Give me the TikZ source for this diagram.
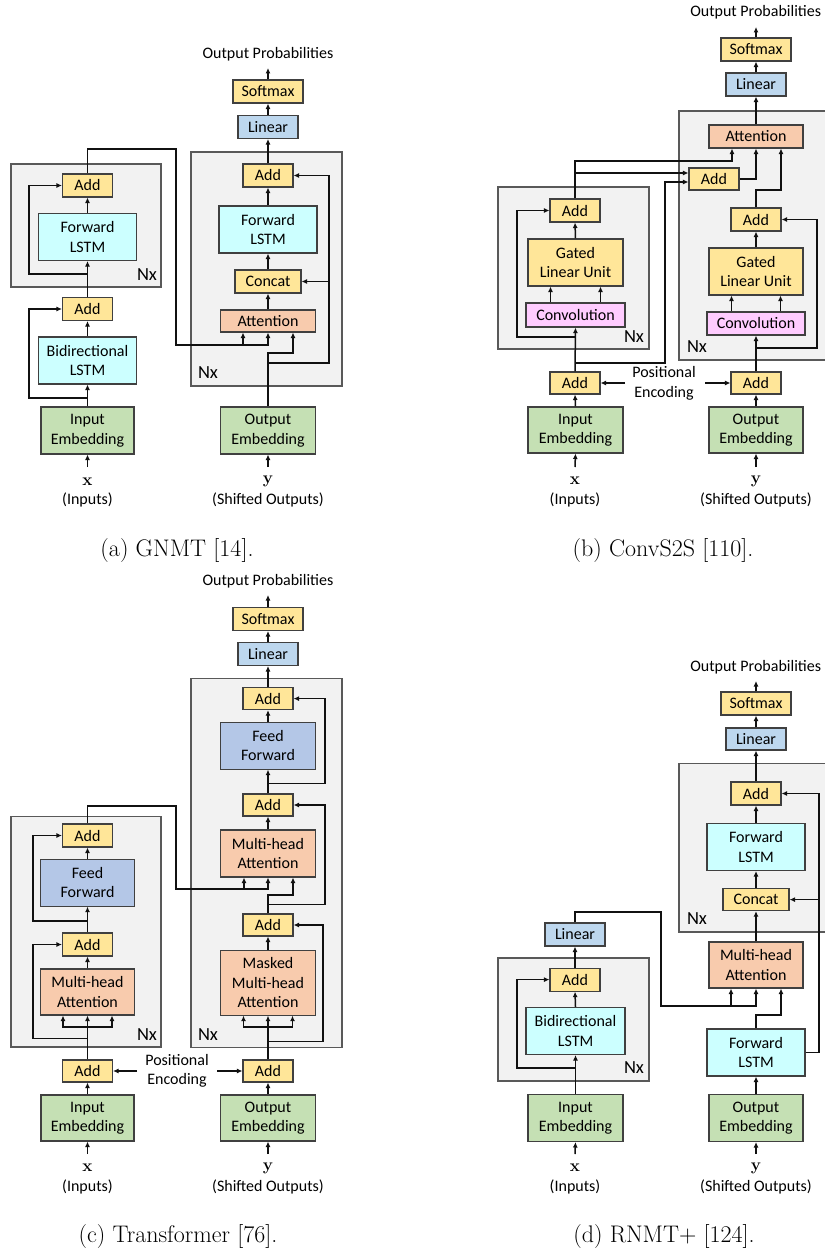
\documentclass[tikz,border=0pt]{standalone}
\usepackage{fontspec}
\newfontfamily\cfont{Carlito}
\usetikzlibrary{arrows.meta,calc}
\definecolor{cyel}{HTML}{FFE699}
\definecolor{clin}{HTML}{BDD7EE}
\definecolor{cff}{HTML}{B4C7E7}
\definecolor{clstm}{HTML}{CCFFFF}
\definecolor{catt}{HTML}{F8CBAD}
\definecolor{cconv}{HTML}{FFCCFF}
\definecolor{cemb}{HTML}{C5E0B4}
\definecolor{cnx}{HTML}{F2F2F2}
\definecolor{cnxd}{HTML}{595959}
\definecolor{cbd}{HTML}{404040}
\definecolor{cln}{HTML}{111111}
\tikzset{
 blk/.style={draw=cbd, line width=1.1pt, inner sep=0pt, align=center, font=\cfont\fontsize{16}{19.5}\selectfont, text=black},
 yb/.style={blk, fill=cyel},
 lb/.style={blk, fill=clin},
 fb/.style={blk, fill=cff},
 sb/.style={blk, fill=clstm},
 ab/.style={blk, fill=catt},
 pb/.style={blk, fill=cconv},
 gb/.style={blk, fill=cemb},
 addb/.style={yb, minimum width=50pt, minimum height=23pt},
 smb/.style={yb, minimum width=70pt, minimum height=23pt},
 linb/.style={lb, minimum width=60pt, minimum height=23pt},
 bigb/.style={minimum width=95pt, minimum height=47pt},
 nxbox/.style={draw=cnxd, fill=cnx, line width=1.2pt},
 lbl/.style={font=\cfont\fontsize{16}{19.5}\selectfont, align=center, inner sep=0pt},
 nxl/.style={font=\cfont\fontsize{18.5}{19.5}\selectfont, inner sep=0pt},
 sym/.style={font=\fontsize{17}{17}\selectfont\bfseries, inner sep=0pt},
 capt/.style={font=\fontsize{24}{28}\selectfont, inner sep=0pt, anchor=base},
 arr/.style={draw=cln, line width=1.5pt, -{Latex[length=5.5pt,width=5pt]}},
 con/.style={draw=cln, line width=1.5pt},
}
\begin{document}
\begin{tikzpicture}[x=1pt,y=-1pt]
\fill[white] (0,0) rectangle (824,1252);
\useasboundingbox (0,0) rectangle (824,1252);

%================ (a) GNMT =================
\draw[nxbox] (191,152) rectangle (342,386);
\draw[nxbox] (11,164) rectangle (161,287);
\node[lbl] (aOP) at (268,54) {Output Probabilities};
\coordinate (aOPb) at (268,68);
\node[smb] (aSoft) at (268,91.5) {Softmax};
\node[linb] (aLin) at (268,127) {Linear};
\node[addb] (aDAdd) at (268,175.5) {Add};
\node[sb,bigb,minimum width=98pt] (aDLSTM) at (268,229.5) {Forward\\LSTM};
\node[yb,minimum width=66pt,minimum height=23pt] (aCat) at (268,281.5) {Concat};
\node[ab,minimum width=95pt,minimum height=22pt] (aAtt) at (268,321) {Attention};
\node[nxl] (aNxD) at (208,373) {Nx};
\node[gb,bigb] (aOE) at (268,430.5) {Output\\Embedding};
\node[sym] (ay) at (268,481.5) {y};
\node[lbl] (ays) at (268,500) {(Shifted Outputs)};
\coordinate (ayT) at (268,467);

\node[addb] (aEAdd2) at (87.5,185.5) {Add};
\node[sb,bigb,minimum width=98pt] (aELSTM) at (87.5,237) {Forward\\LSTM};
\node[nxl] (aNxE) at (147,275) {Nx};
\node[addb] (aEAdd1) at (87.5,309) {Add};
\node[sb,bigb,minimum width=98pt] (aEBi) at (87.5,360.5) {Bidirectional\\LSTM};
\node[gb,bigb,minimum width=93pt] (aIE) at (87.5,430.5) {Input\\Embedding};
\node[sym] (ax) at (87.5,481.5) {x};
\node[lbl] (axs) at (87.5,500) {(Inputs)};
\coordinate (axT) at (87.5,467);

\draw[arr] (axT) -- (aIE.south);
\draw[arr] (aIE.north) -- (aEBi.south);
\draw[arr] (87.5,398) -- (29,398) |- (aEAdd1.west);
\draw[arr] (aEBi.north) -- (aEAdd1.south);
\draw[arr] (aEAdd1.north) -- (aELSTM.south);
\draw[arr] (87.5,274) -- (29,274) |- (aEAdd2.west);
\draw[arr] (aELSTM.north) -- (aEAdd2.south);
\draw[arr] (aEAdd2.north) -- (87.5,149) -- (176,149) -- (176,345) -- (268,345) -- (aAtt.south);
\draw[arr] (243,345) -- ($(aAtt.south)+(-25,0)$);
\draw[arr] (ayT) -- (aOE.south);
\draw[arr] (aOE.north) -- (268,353) -| ($(aAtt.south)+(25,0)$);
\draw[arr] (268,363) -- (329,363) |- (aDAdd.east);
\draw[arr] (329,281.5) -- (aCat.east);
\draw[arr] (aAtt.north) -- (aCat.south);
\draw[arr] (aCat.north) -- (aDLSTM.south);
\draw[arr] (aDLSTM.north) -- (aDAdd.south);
\draw[arr] (aDAdd.north) -- (aLin.south);
\draw[arr] (aLin.north) -- (aSoft.south);
\draw[arr] (aSoft.north) -- (aOPb);

\node[capt] (capa) at (177,556) {(a) GNMT [14].};

%================ (b) ConvS2S =================
\draw[nxbox] (679,111) rectangle (834,360);
\draw[nxbox] (498,187) rectangle (649,349);
\node[lbl] (bOP) at (755.7,12.7) {Output Probabilities};
\coordinate (bOPb) at (756,27);
\node[smb] (bSoft) at (756,49.5) {Softmax};
\node[linb] (bLin) at (756,84.5) {Linear};
\node[ab,minimum width=94pt,minimum height=23pt] (bAtt) at (756,136.5) {Attention};
\node[addb,minimum height=22pt] (bCAdd) at (714,179) {Add};
\node[addb] (bDAdd) at (756,219.5) {Add};
\node[yb,bigb,minimum width=94pt] (bDGLU) at (756,271.5) {Gated\\Linear Unit};
\node[pb,minimum width=98pt,minimum height=23pt] (bDConv) at (756,323.5) {Convolution};
\node[nxl] (bNxD) at (697,347) {Nx};
\node[addb,minimum height=22pt] (bPAddD) at (756,383) {Add};
\node[gb,bigb,minimum width=94pt,minimum height=46pt] (bOE) at (756,430) {Output\\Embedding};
\node[sym] (by) at (756,481) {y};
\node[lbl] (bys) at (756,499.5) {(Shifted Outputs)};
\coordinate (byT) at (756,467);

\node[addb] (bEAdd) at (575,210.5) {Add};
\node[yb,bigb] (bEGLU) at (575.5,262.5) {Gated\\Linear Unit};
\node[pb,minimum width=99pt,minimum height=24pt] (bEConv) at (575.5,315) {Convolution};
\node[nxl] (bNxE) at (634,337) {Nx};
\node[addb,minimum height=22pt] (bPAddE) at (575,383) {Add};
\node[gb,bigb,minimum height=46pt] (bIE) at (575.5,430) {Input\\Embedding};
\node[sym] (bx) at (575,481) {x};
\node[lbl] (bxs) at (575,499.5) {(Inputs)};
\coordinate (bxT) at (575,467);
\node[lbl] (bPE) at (664,383.5) {Positional\\Encoding};
\coordinate (bPEl) at (625,383);
\coordinate (bPEr) at (705,383);

\draw[arr] (bxT) -- (bIE.south);
\draw[arr] (bIE.north) -- (bPAddE.south);
\draw[arr] (bPEl) -- (bPAddE.east);
\draw[arr] (bPEr) -- (bPAddD.west);
\draw[arr] (bPAddE.north) -- (bEConv.south);
\draw[arr] (575,337) -- (517,337) |- (bEAdd.west);
\draw[arr] (575,363) -- (665,363) |- ($(bCAdd.west)+(0,3)$);
\draw[arr] ($(bEConv.north)+(-25,0)$) -- ($(bEGLU.south)+(-25,0)$);
\draw[arr] ($(bEConv.north)+(25,0)$) -- ($(bEGLU.south)+(25,0)$);
\draw[arr] (bEGLU.north) -- (bEAdd.south);
\draw[arr] (bEAdd.north) -- (575,161) -| ($(bAtt.south)+(-24,0)$);
\draw[arr] (575,173) -- ($(bCAdd.west)+(0,-6)$);
\draw[arr] (bCAdd.east) -| (bAtt.south);
\draw[arr] (byT) -- (bOE.south);
\draw[arr] (bOE.north) -- (bPAddD.south);
\draw[arr] (bPAddD.north) -- (bDConv.south);
\draw[arr] (756,348) -- (817,348) |- (bDAdd.east);
\draw[arr] ($(bDConv.north)+(-24.5,0)$) -- ($(bDGLU.south)+(-24.5,0)$);
\draw[arr] ($(bDConv.north)+(24.5,0)$) -- ($(bDGLU.south)+(24.5,0)$);
\draw[arr] (bDGLU.north) -- (bDAdd.south);
\draw[arr] (bDAdd.north) -- (756,190) -| ($(bAtt.south)+(25,0)$);
\draw[arr] (bAtt.north) -- (bLin.south);
\draw[arr] (bLin.north) -- (bSoft.south);
\draw[arr] (bSoft.north) -- (bOPb);

\node[capt] (capb) at (663,556) {(b) ConvS2S [110].};

%================ (c) Transformer =================
\draw[nxbox] (191,678.6) rectangle (342,1047.6);
\draw[nxbox] (11,816.5) rectangle (161,1047);
\node[lbl] (cOP) at (268,581.4) {Output Probabilities};
\coordinate (cOPb) at (268,595);
\node[smb] (cSoft) at (268,619) {Softmax};
\node[linb] (cLin) at (268,654) {Linear};
\node[addb,minimum height=22pt] (cDAdd3) at (268,698.6) {Add};
\node[fb,bigb] (cDFF) at (268,745.6) {Feed\\Forward};
\node[addb,minimum height=22pt] (cDAdd2) at (268,805) {Add};
\node[ab,bigb] (cDMHA) at (268,853.5) {Multi-head\\Attention};
\node[addb,minimum height=22pt] (cDAdd1) at (268,925) {Add};
\node[ab,minimum width=95pt,minimum height=65pt] (cDMM) at (268,982.6) {Masked\\Multi-head\\Attention};
\node[nxl] (cNxD) at (208,1034.5) {Nx};
\node[addb,minimum height=22pt] (cPAddD) at (268,1071) {Add};
\node[gb,bigb,minimum height=46pt] (cOE) at (268,1118) {Output\\Embedding};
\node[sym] (cy) at (268,1168) {y};
\node[lbl] (cys) at (268,1187) {(Shifted Outputs)};
\coordinate (cyT) at (268,1154);

\node[addb] (cEAdd2) at (87.5,835.5) {Add};
\node[fb,bigb,minimum width=94pt] (cEFF) at (87.5,882.6) {Feed\\Forward};
\node[addb] (cEAdd1) at (87.5,944.5) {Add};
\node[ab,bigb,minimum width=94pt,minimum height=46pt] (cEMHA) at (87.5,992) {Multi-head\\Attention};
\node[nxl] (cNxE) at (147,1034.5) {Nx};
\node[addb,minimum height=22pt] (cPAddE) at (87.5,1071) {Add};
\node[gb,bigb,minimum width=93pt,minimum height=46pt] (cIE) at (87.5,1118) {Input\\Embedding};
\node[sym] (cx) at (87.5,1168) {x};
\node[lbl] (cxs) at (87.5,1187) {(Inputs)};
\coordinate (cxT) at (87.5,1154);
\node[lbl] (cPE) at (177,1071) {Positional\\Encoding};
\coordinate (cPEl) at (137,1071);
\coordinate (cPEr) at (217,1071);

\draw[arr] (cxT) -- (cIE.south);
\draw[arr] (cIE.north) -- (cPAddE.south);
\draw[arr] (cPEl) -- (cPAddE.east);
\draw[arr] (cPEr) -- (cPAddD.west);
\draw[arr] (cPAddE.north) -- (cEMHA.south);
\draw[arr] (87.5,1027) -| ($(cEMHA.south)+(-24.5,0)$);
\draw[arr] (87.5,1027) -| ($(cEMHA.south)+(24.5,0)$);
\draw[arr] (87.5,1038.6) -- (33,1038.6) |- (cEAdd1.west);
\draw[arr] (cEMHA.north) -- (cEAdd1.south);
\draw[arr] (cEAdd1.north) -- (cEFF.south);
\draw[arr] (87.5,921) -- (33,921) |- (cEAdd2.west);
\draw[arr] (cEFF.north) -- (cEAdd2.south);
\draw[arr] (cEAdd2.north) -- (87.5,806) -- (176,806) -- (176,889) -- (268,889) -- (cDMHA.south);
\draw[arr] (244,889) -- ($(cDMHA.south)+(-24,0)$);
\draw[arr] (cyT) -- (cOE.south);
\draw[arr] (cOE.north) -- (cPAddD.south);
\draw[arr] (cPAddD.north) -- (cDMM.south);
\draw[arr] (268,1027) -| ($(cDMM.south)+(-24.5,0)$);
\draw[arr] (268,1027) -| ($(cDMM.south)+(24.5,0)$);
\draw[arr] (268,1041.4) -- (323,1041.4) |- (cDAdd1.east);
\draw[arr] (cDMM.north) -- (cDAdd1.south);
\draw[arr] (cDAdd1.north) -- (268,895) -| ($(cDMHA.south)+(25,0)$);
\draw[arr] (268,904.7) -- (325,904.7) |- (cDAdd2.east);
\draw[arr] (cDMHA.north) -- (cDAdd2.south);
\draw[arr] (cDAdd2.north) -- (cDFF.south);
\draw[arr] (268,783.5) -- (325,783.5) |- (cDAdd3.east);
\draw[arr] (cDFF.north) -- (cDAdd3.south);
\draw[arr] (cDAdd3.north) -- (cLin.south);
\draw[arr] (cLin.north) -- (cSoft.south);
\draw[arr] (cSoft.north) -- (cOPb);

\node[capt] (capc) at (178,1242) {(c) Transformer [76].};

%================ (d) RNMT+ =================
\draw[nxbox] (679,763.6) rectangle (834,932);
\draw[nxbox] (498,958) rectangle (649,1081);
\node[lbl] (dOP) at (755.7,666.8) {Output Probabilities};
\coordinate (dOPb) at (756,681);
\node[smb] (dSoft) at (756,703.5) {Softmax};
\node[linb,minimum height=22pt] (dLin) at (756,739) {Linear};
\node[addb] (dDAdd) at (756,793.5) {Add};
\node[sb,bigb,minimum width=98pt] (dDLSTM) at (756,847) {Forward\\LSTM};
\node[yb,minimum width=66pt,minimum height=22pt] (dCat) at (756,899.6) {Concat};
\node[nxl] (dNxD) at (697,919) {Nx};
\node[ab,bigb,minimum width=94pt,minimum height=46pt] (dMHA) at (756,965) {Multi-head\\Attention};
\node[sb,bigb,minimum width=98pt] (dFL) at (756,1052.5) {Forward\\LSTM};
\node[gb,bigb,minimum width=94pt] (dOE) at (756,1118) {Output\\Embedding};
\node[sym] (dy) at (756,1168) {y};
\node[lbl] (dys) at (756,1187) {(Shifted Outputs)};
\coordinate (dyT) at (756,1154);

\node[linb] (dELin) at (575,934.5) {Linear};
\node[addb] (dEAdd) at (575,979.6) {Add};
\node[sb,bigb,minimum width=99pt] (dEBi) at (575.5,1031) {Bidirectional\\LSTM};
\node[nxl] (dNxE) at (634,1068) {Nx};
\node[gb,bigb] (dIE) at (575.5,1118) {Input\\Embedding};
\node[sym] (dx) at (575,1168) {x};
\node[lbl] (dxs) at (575,1187) {(Inputs)};
\coordinate (dxT) at (575,1154);

\draw[arr] (dxT) -- (dIE.south);
\draw[arr] (dIE.north) -- (dEBi.south);
\draw[arr] (575,1068) -- (517,1068) |- (dEAdd.west);
\draw[arr] (dEBi.north) -- (dEAdd.south);
\draw[arr] (dEAdd.north) -- (dELin.south);
\draw[arr] (dELin.north) -- (575,911.8) -- (661,911.8) -- (661,1006) -- (756,1006) -- (dMHA.south);
\draw[arr] (731,1006) -- ($(dMHA.south)+(-25,0)$);
\draw[arr] (dyT) -- (dOE.south);
\draw[arr] (dOE.north) -- (dFL.south);
\draw[arr] (dFL.north) -- (756,1015) -| ($(dMHA.south)+(25,0)$);
\draw[arr] (dFL.east) -- (819,1052.5) |- (dDAdd.east);
\draw[arr] (819,899.6) -- (dCat.east);
\draw[arr] (dMHA.north) -- (dCat.south);
\draw[arr] (dCat.north) -- (dDLSTM.south);
\draw[arr] (dDLSTM.north) -- (dDAdd.south);
\draw[arr] (dDAdd.north) -- (dLin.south);
\draw[arr] (dLin.north) -- (dSoft.south);
\draw[arr] (dSoft.north) -- (dOPb);

\node[capt] (capd) at (664,1242) {(d) RNMT+ [124].};
\end{tikzpicture}
\end{document}
